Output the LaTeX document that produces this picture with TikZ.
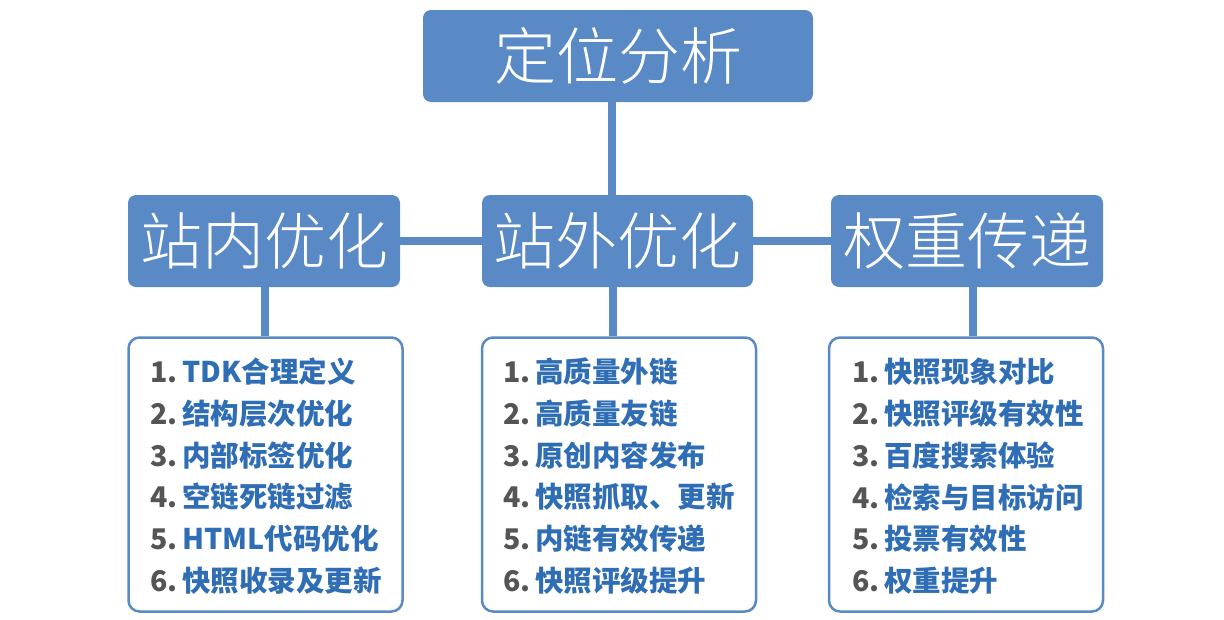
\documentclass[tikz,border=0pt]{standalone}
\usepackage{fontspec}
\newfontfamily\cjklight{Noto Sans CJK SC Light}
\newfontfamily\cjkbold{Noto Sans CJK SC Black}
\definecolor{boxblue}{HTML}{5A8AC6}
\definecolor{txtblue}{HTML}{2F6DB5}
\definecolor{numgrey}{HTML}{555555}
\tikzset{
  head/.style={fill=boxblue, rounded corners=8pt, text=white, inner sep=0pt, font=\cjklight\fontsize{62}{62}\selectfont},
  listbox/.style={draw=boxblue, line width=2.5pt, fill=white, rounded corners=11pt, inner sep=0pt},
  conn/.style={draw=boxblue, line width=8pt},
  item/.style={anchor=west, inner sep=0pt, font=\cjkbold\fontsize{28.5}{28.5}\selectfont, text=txtblue},
}
\newcommand{\num}[1]{\textcolor{numgrey}{#1}\,}
\begin{document}
\begin{tikzpicture}[x=1pt,y=-1pt]
\useasboundingbox (0,0) rectangle (1224,619);
\node[head, minimum width=390pt, minimum height=92pt] (top) at (618,56) {定位分析};
\node[head, minimum width=272pt, minimum height=92pt] (L) at (264,241) {站内优化};
\node[head, minimum width=271pt, minimum height=92pt] (M) at (617.5,241) {站外优化};
\node[head, minimum width=272pt, minimum height=92pt] (R) at (967,241) {权重传递};
\node[listbox, minimum width=274pt, minimum height=274pt] (LL) at (265.5,474.5) {};
\node[listbox, minimum width=274pt, minimum height=274pt] (ML) at (619,474.5) {};
\node[listbox, minimum width=274pt, minimum height=274pt] (RL) at (966,474.5) {};
\draw[conn] (top.south -| 612,0) -- (M.north -| 612,0);
\draw[conn] (L.east) -- (M.west);
\draw[conn] (M.east) -- (R.west);
\draw[conn] (L.south -| 265,0) -- (LL.north -| 265,0);
\draw[conn] (M.south -| 613,0) -- (ML.north -| 613,0);
\draw[conn] (R.south -| 973,0) -- (RL.north -| 973,0);
\foreach \i/\t [count=\k] in {1/TDK合理定义,2/结构层次优化,3/内部标签优化,4/空链死链过滤,5/HTML代码优化,6/快照收录及更新}{
  \node[item] (l\k) at (150,{372+41.7*(\k-1)}) {\num{\i.}\t};
}
\foreach \i/\t [count=\k] in {1/高质量外链,2/高质量友链,3/原创内容发布,4/快照抓取、更新,5/内链有效传递,6/快照评级提升}{
  \node[item] (m\k) at (503,{372+41.7*(\k-1)}) {\num{\i.}\t};
}
\foreach \i/\t [count=\k] in {1/快照现象对比,2/快照评级有效性,3/百度搜索体验,4/检索与目标访问,5/投票有效性,6/权重提升}{
  \node[item] (r\k) at (852,{372+41.7*(\k-1)}) {\num{\i.}\t};
}
\end{tikzpicture}
\end{document}
